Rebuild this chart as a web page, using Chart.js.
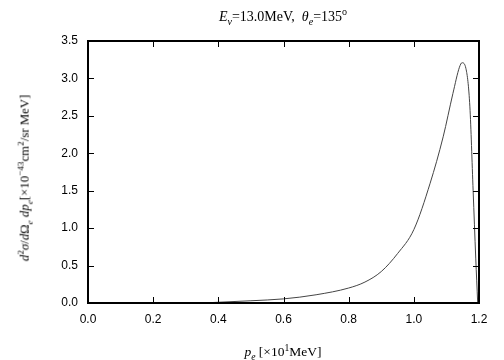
<!DOCTYPE html>
<html><head><meta charset="utf-8">
<script src="https://cdn.jsdelivr.net/npm/chart.js@4"></script>
<style>
body{margin:0;background:#fff;}
#wrap{position:relative;width:504px;height:360px;}
.lbl{position:absolute;font-family:"Liberation Serif","Times New Roman",serif;color:#000;white-space:nowrap;line-height:1;}
sub,sup{font-size:72%;line-height:0;}
</style></head>
<body>
<div id="wrap">
<canvas id="c" width="504" height="360"></canvas>
<div class="lbl" id="title" style="left:283px;top:10px;font-size:14px;transform:translateX(-50%);"><i>E</i><sub><i>ν</i></sub>=13.0MeV,&nbsp; <i>θ</i><sub><i>e</i></sub>=135<sup>o</sup></div>
<div class="lbl" id="xl" style="left:283px;top:345px;font-size:13.5px;transform:translateX(-50%);"><i>p</i><sub><i>e</i></sub> [×10<sup>1</sup>MeV]</div>
<div class="lbl" id="yl" style="left:25px;top:178px;font-size:12.8px;transform:translate(-50%,-50%) rotate(-90deg);"><i>d</i><sup>2</sup><i>σ</i>/<i>d</i>Ω<sub><i>e</i></sub> <i>dp</i><sub><i>e</i></sub>[×10<sup>−43</sup>cm<sup>2</sup>/sr MeV]</div>
</div>
<script>
const pe = [0.35,0.4,0.5,0.6,0.7,0.8,0.85,0.9,0.95,1.0,1.05,1.09,1.12,1.14,1.148,1.16,1.172,1.182,1.19,1.196];
const sigma = [0.0,0.01,0.03,0.055,0.11,0.2,0.28,0.42,0.66,0.98,1.6,2.22,2.8,3.15,3.21,3.13,2.62,1.5,0.6,0.0];
const xTicks = [0.0,0.2,0.4,0.6,0.8,1.0,1.2];
const yTicks = [0.0,0.5,1.0,1.5,2.0,2.5,3.0,3.5];

const frame = {
  id:'frame',
  afterDraw(chart){
    const ctx=chart.ctx, a=chart.chartArea, xs=chart.scales.x, ys=chart.scales.y;
    ctx.save();
    ctx.strokeStyle='#000';
    ctx.lineWidth=1;
    const L=6;
    ctx.beginPath();
    xTicks.forEach(v=>{const px=Math.round(xs.getPixelForValue(v))+0.5;
      ctx.moveTo(px,a.bottom);ctx.lineTo(px,a.bottom-L);
      ctx.moveTo(px,a.top);ctx.lineTo(px,a.top+L);});
    yTicks.forEach(v=>{const py=Math.round(ys.getPixelForValue(v))+0.5;
      ctx.moveTo(a.left,py);ctx.lineTo(a.left+L,py);
      ctx.moveTo(a.right,py);ctx.lineTo(a.right-L,py);});
    ctx.stroke();
    ctx.lineWidth=2;
    ctx.strokeRect(a.left,a.top,a.right-a.left,a.bottom-a.top);
    ctx.restore();
  }
};

new Chart(document.getElementById('c'),{
  type:'scatter',
  data:{datasets:[{data:pe.map((v,i)=>({x:v,y:sigma[i]})),showLine:true,borderColor:'#444',borderWidth:1,pointRadius:0,tension:0.35,cubicInterpolationMode:'monotone',fill:false}]},
  options:{
    responsive:false,animation:false,devicePixelRatio:1,
    layout:{padding:{left:0,right:25,top:41,bottom:0}},
    plugins:{legend:{display:false},tooltip:{enabled:false},title:{display:false}},
    scales:{
      x:{type:'linear',min:0,max:1.2,
        afterFit(s){s.height=57;},
        afterBuildTicks(s){s.ticks=xTicks.map(v=>({value:v}));},
        grid:{display:false,drawTicks:false},border:{display:false},
        ticks:{padding:9,color:'#000',font:{family:'Liberation Sans, Arial, sans-serif',size:12},callback:v=>v.toFixed(1),maxRotation:0}},
      y:{type:'linear',min:0,max:3.5,
        afterFit(s){s.width=88;},
        afterBuildTicks(s){s.ticks=yTicks.map(v=>({value:v}));},
        grid:{display:false,drawTicks:false},border:{display:false},
        ticks:{padding:10,color:'#000',font:{family:'Liberation Sans, Arial, sans-serif',size:12},callback:v=>v.toFixed(1)}}
    }
  },
  plugins:[frame]
});
</script>
</body></html>
